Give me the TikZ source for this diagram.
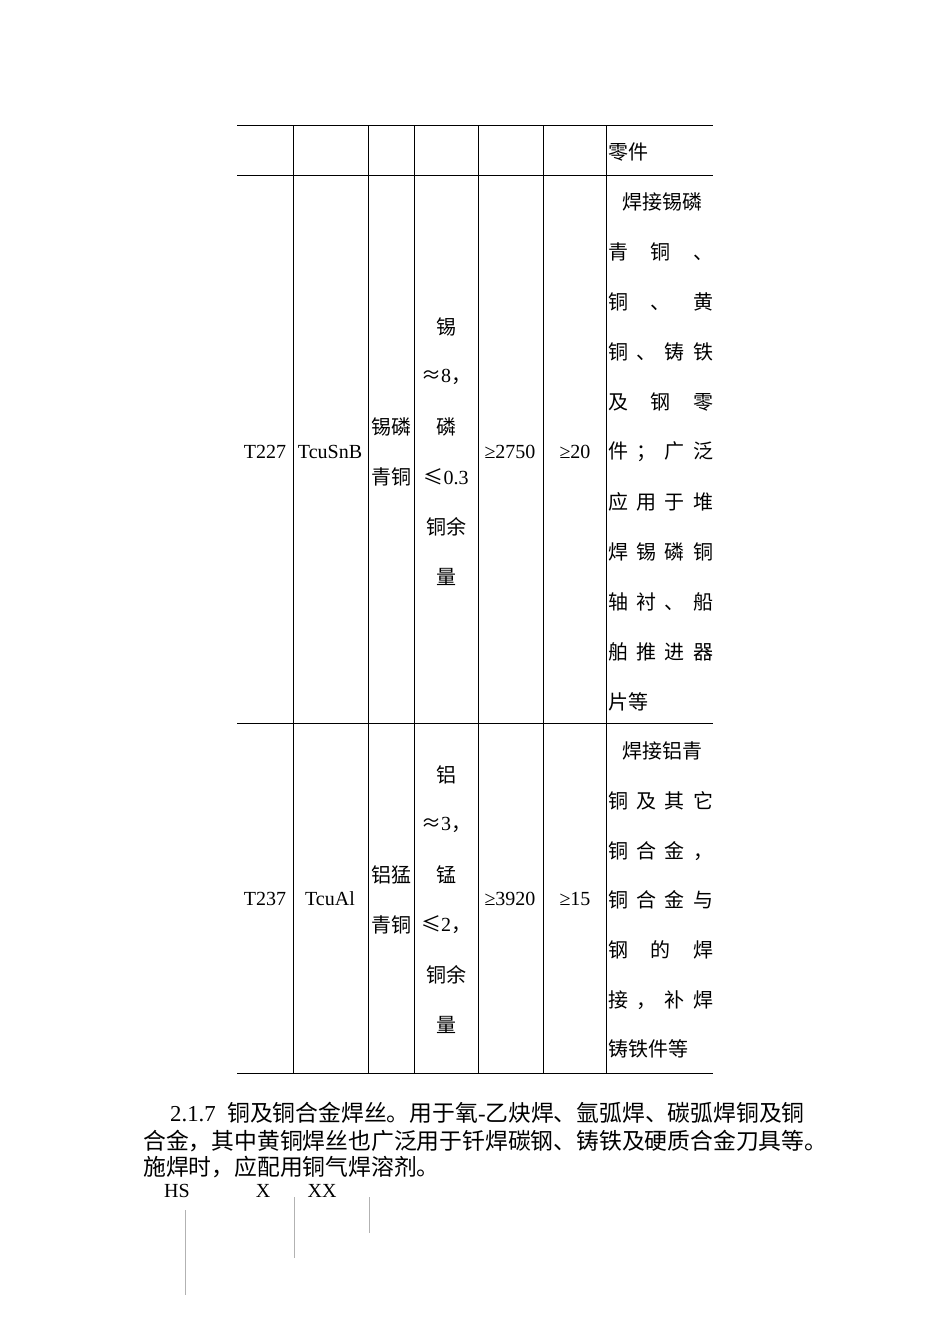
\documentclass[tikz,border=0pt]{standalone}
\usepackage{fontspec}
\setmainfont{Liberation Serif}
\newfontfamily\cjk{Noto Sans CJK SC}
\begin{document}
\begin{tikzpicture}[x=1pt,y=-1pt,
  every node/.style={inner sep=0pt,font=\fontsize{20}{24}\selectfont},
  rule/.style={line width=0.6pt},
  para/.style={anchor=west,font=\fontsize{22.8}{26}\selectfont},
  jl/.style={anchor=west,text width=105pt,align=justify}]
\useasboundingbox (0,0) rectangle (950,1344);
\fill[white] (0,0) rectangle (950,1344);
% table lines
\foreach \y in {125,175,723,1073} \draw[rule] (237,\y) -- (713,\y);
\foreach \x in {293,368,414,478,543,606} \draw[rule] (\x,125) -- (\x,1073);
% row 1
\node[anchor=west] (r1) at (608,152) {\cjk 零件};
% row 2
\node (a1) at (265,452) {T227};
\node (a2) at (330,452) {TcuSnB};
\node (a3) at (391,427) {\cjk 锡磷};
\node (a3b) at (391,477) {\cjk 青铜};
\node (a4) at (446,327) {\cjk 锡};
\node (a4b) at (446,377) {{\cjk ≈}8\cjk ，};
\node (a4c) at (446,427) {\cjk 磷};
\node (a4d) at (446,477) {{\cjk ≤}0.3};
\node (a4e) at (446,527) {\cjk 铜余};
\node (a4f) at (446,577) {\cjk 量};
\node (a5) at (510,452) {≥2750};
\node (a6) at (575,452) {≥20};
\begin{scope}[every node/.append style={font=\fontsize{20}{24}\selectfont\cjk}]
\node[jl] (b1) at (608,202) {\hspace*{14pt}焊接锡磷};
\node[jl] (b2) at (608,252) {青\hfill 铜\hfill 、};
\node[jl] (b3) at (608,302) {铜\hfill 、\hfill 黄};
\node[jl] (b4) at (608,352) {铜\hfill 、\hfill 铸\hfill 铁};
\node[jl] (b5) at (608,402) {及\hfill 钢\hfill 零};
\node[jl] (b6) at (608,452) {件\hfill ；\hfill 广\hfill 泛};
\node[jl] (b7) at (608,502) {应\hfill 用\hfill 于\hfill 堆};
\node[jl] (b8) at (608,552) {焊\hfill 锡\hfill 磷\hfill 铜};
\node[jl] (b9) at (608,602) {轴\hfill 衬\hfill 、\hfill 船};
\node[jl] (b10) at (608,652) {舶\hfill 推\hfill 进\hfill 器};
\node[anchor=west] (b11) at (608,702) {片等};
\end{scope}
% row 3
\node (c1) at (265,899) {T237};
\node (c2) at (330,899) {TcuAl};
\node (c3) at (391,875) {\cjk 铝猛};
\node (c3b) at (391,925) {\cjk 青铜};
\node (c4) at (446,775) {\cjk 铝};
\node (c4b) at (446,825) {{\cjk ≈}3\cjk ，};
\node (c4c) at (446,875) {\cjk 锰};
\node (c4d) at (446,925) {{\cjk ≤}2\cjk ，};
\node (c4e) at (446,975) {\cjk 铜余};
\node (c4f) at (446,1025) {\cjk 量};
\node (c5) at (510,899) {≥3920};
\node (c6) at (575,899) {≥15};
\begin{scope}[every node/.append style={font=\fontsize{20}{24}\selectfont\cjk}]
\node[jl] (d1) at (608,751) {\hspace*{14pt}焊接铝青};
\node[jl] (d2) at (608,801) {铜\hfill 及\hfill 其\hfill 它};
\node[jl] (d3) at (608,851) {铜\hfill 合\hfill 金\hfill ，};
\node[jl] (d4) at (608,900) {铜\hfill 合\hfill 金\hfill 与};
\node[jl] (d5) at (608,950) {钢\hfill 的\hfill 焊};
\node[jl] (d6) at (608,1000) {接\hfill ，\hfill 补\hfill 焊};
\node[anchor=west] (d7) at (608,1049) {铸铁件等};
\end{scope}
% paragraph
\node[para] (p1) at (170,1113) {2.1.7\ \ {\cjk 铜及铜合金焊丝。用于氧}-{\cjk 乙炔焊、氩弧焊、碳弧焊铜及铜}};
\node[para] (p2) at (143,1141) {\cjk 合金，其中黄铜焊丝也广泛用于钎焊碳钢、铸铁及硬质合金刀具等。};
\node[para] (p3) at (143,1167) {\cjk 施焊时，应配用铜气焊溶剂。};
\node (h1) at (177,1191) {HS};
\node (h2) at (263,1191) {X};
\node (h3) at (322,1191) {XX};
\draw[gray!60,line width=0.5pt] (185,1210) -- (185,1295);
\draw[gray!60,line width=0.5pt] (294,1197) -- (294,1258);
\draw[gray!60,line width=0.5pt] (369,1197) -- (369,1233);
\end{tikzpicture}
\end{document}
